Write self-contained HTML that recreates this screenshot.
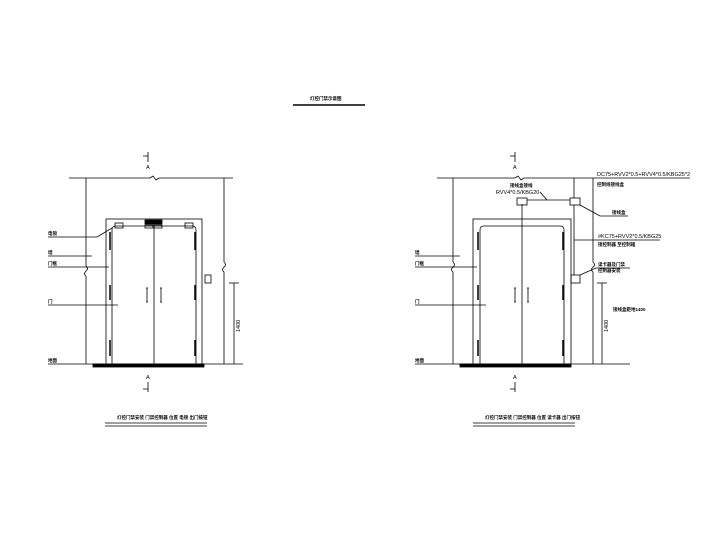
<!DOCTYPE html>
<html><head><meta charset="utf-8"><style>html,body{margin:0;padding:0;background:#fff}svg{display:block}</style></head><body>
<svg width="720" height="540" viewBox="0 0 720 540" xmlns="http://www.w3.org/2000/svg" font-family="Liberation Sans, Noto Sans CJK SC, sans-serif">
<g stroke="#000" stroke-width="0.8" fill="none">
<line x1="293" y1="105" x2="365" y2="105" stroke-width="1.5"/>
<line x1="69" y1="178" x2="150" y2="178"/><path d="M150 178 l3 -2 l3 4 l3 -2"/><line x1="159" y1="178" x2="233" y2="178"/>
<line x1="86" y1="178" x2="86" y2="266"/><path d="M86 266 q3 3 0 5 q-3 3 0 5"/><line x1="86" y1="276" x2="86" y2="364"/>
<line x1="224" y1="178" x2="224" y2="262"/><path d="M224 262 q3 3 0 5 q-3 3 0 5"/><line x1="224" y1="272" x2="224" y2="364"/>
<rect x="106" y="219" width="96" height="145"/>
<path d="M112 364 V230 q0 -4 4 -4 H192 q4 0 4 4 V364"/>
<line x1="154" y1="226" x2="154" y2="364"/>
<rect x="145" y="220" width="17" height="4" fill="#000"/>
<rect x="145" y="225" width="8" height="3"/><rect x="154" y="225" width="8" height="3"/>
<rect x="115" y="223" width="8" height="5"/><rect x="185" y="223" width="8" height="5"/>
<line x1="110" y1="232" x2="110" y2="250" stroke-width="1.5"/><line x1="110" y1="285" x2="110" y2="300" stroke-width="1.5"/><line x1="110" y1="340" x2="110" y2="356" stroke-width="1.5"/>
<line x1="195" y1="232" x2="195" y2="250" stroke-width="1.5"/><line x1="195" y1="285" x2="195" y2="300" stroke-width="1.5"/><line x1="195" y1="340" x2="195" y2="356" stroke-width="1.5"/>
<path d="M147 288 v14 M146 288 h2 M146 302 h2 M161 288 v14 M160 288 h2 M160 302 h2"/>
<rect x="205" y="275" width="6" height="8"/>
<line x1="48" y1="364" x2="243" y2="364"/>
<rect x="93" y="364" width="111" height="3" fill="#000"/>
<line x1="234" y1="283" x2="234" y2="364"/><line x1="229" y1="283" x2="239" y2="283"/>
<path d="M48 237 H97 L112 228"/><line x1="48" y1="256" x2="92" y2="256"/><line x1="48" y1="267" x2="109" y2="267"/><line x1="48" y1="305" x2="118" y2="305"/>
<path d="M148 152 v10 M143 156 h5"/><path d="M148 382 v10 M143 389 h5"/>
<line x1="105" y1="423" x2="207" y2="423"/><line x1="105" y1="426" x2="207" y2="426"/>
<line x1="437" y1="178" x2="515" y2="178"/><path d="M515 178 l3 -2 l3 4 l3 -2"/><line x1="524" y1="178" x2="690" y2="178"/>
<line x1="453" y1="178" x2="453" y2="262"/><path d="M453 262 q3 3 0 5 q-3 3 0 5"/><line x1="453" y1="272" x2="453" y2="364"/>
<line x1="593" y1="178" x2="593" y2="262"/><path d="M593 262 q3 3 0 5 q-3 3 0 5"/><line x1="593" y1="272" x2="593" y2="364"/>
<rect x="473" y="219" width="98" height="145"/>
<path d="M480 364 V230 q0 -4 4 -4 H560 q4 0 4 4 V364"/>
<line x1="522" y1="204" x2="522" y2="364"/>
<rect x="517" y="198" width="10" height="7"/><rect x="570" y="198" width="10" height="7"/>
<line x1="527" y1="200" x2="570" y2="200"/><line x1="574" y1="178" x2="574" y2="198"/>
<path d="M540 192 L547 200"/><path d="M580 205 L600 216 H628"/>
<line x1="574" y1="205" x2="574" y2="275"/><rect x="571" y="275" width="9" height="8"/>
<line x1="574" y1="240" x2="660" y2="240"/>
<path d="M580 275 L596 268 H630"/>
<line x1="478" y1="232" x2="478" y2="250" stroke-width="1.5"/><line x1="478" y1="285" x2="478" y2="300" stroke-width="1.5"/><line x1="478" y1="340" x2="478" y2="356" stroke-width="1.5"/>
<line x1="563" y1="232" x2="563" y2="250" stroke-width="1.5"/><line x1="563" y1="285" x2="563" y2="300" stroke-width="1.5"/><line x1="563" y1="340" x2="563" y2="356" stroke-width="1.5"/>
<path d="M515 288 v14 M514 288 h2 M514 302 h2 M528 288 v14 M527 288 h2 M527 302 h2"/>
<line x1="415" y1="364" x2="630" y2="364"/>
<rect x="460" y="364" width="111" height="3" fill="#000"/>
<line x1="602" y1="283" x2="602" y2="364"/><line x1="597" y1="283" x2="607" y2="283"/>
<line x1="415" y1="256" x2="460" y2="256"/><line x1="415" y1="267" x2="477" y2="267"/><line x1="415" y1="305" x2="486" y2="305"/>
<path d="M515 152 v10 M510 156 h5"/><path d="M515 382 v10 M510 389 h5"/>
<line x1="473" y1="423" x2="575" y2="423"/><line x1="473" y1="426" x2="575" y2="426"/>
</g>
<g fill="#000" font-size="4.5" font-weight="bold">
<text x="310" y="100">灯控门禁示意图</text>
<text x="117" y="419">灯控门禁安装 门禁控制器 位置 电锁 出门按钮</text>
<text x="485" y="419">灯控门禁安装 门禁控制器 位置 读卡器 出门按钮</text>
<text x="48" y="235">电锁</text><text x="48" y="254">墙</text><text x="48" y="265">门框</text><text x="48" y="303">门</text><text x="48" y="362">地面</text>
<text x="415" y="254">墙</text><text x="415" y="265">门框</text><text x="415" y="303">门</text><text x="415" y="362">地面</text>
<text x="597" y="186">控制线接线盒</text><text x="612" y="214">接线盒</text><text x="598" y="246">接控制器 至控制箱</text>
<text x="598" y="266">读卡器及门禁</text><text x="598" y="272">控制器安装</text><text x="613" y="311">接线盒距地1400</text>
<text x="510" y="187">接线盒接线</text>
</g>
<g fill="#000" font-size="5.5">
<text x="597" y="176">DC75+RVV2*0.5+RVV4*0.5/KBG25*2</text>
<text x="598" y="238">#KC75+RVV2*0.5/KBG25</text>
<text x="496" y="194">RVV4*0.5/KBG20</text>
<text x="146" y="169">A</text><text x="146" y="379">A</text>
<text x="513" y="169">A</text><text x="513" y="379">A</text>
<text transform="translate(240,332) rotate(-90)">1400</text>
<text transform="translate(608,332) rotate(-90)">1400</text>
</g>
</svg>
</body></html>
